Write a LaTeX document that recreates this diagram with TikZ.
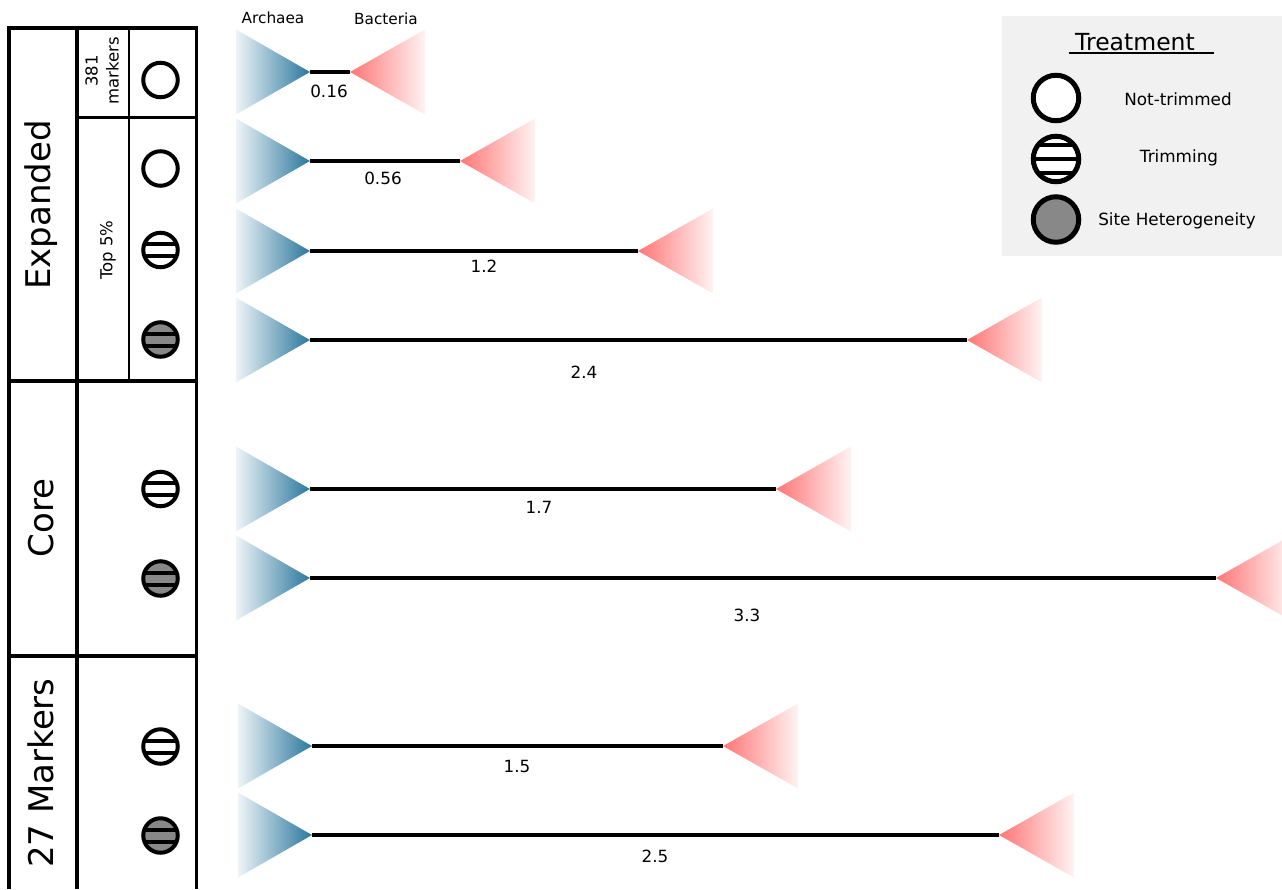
\documentclass[tikz,border=0pt]{standalone}
\usepackage{fontspec}
\setmainfont{DejaVu Sans}
\usetikzlibrary{calc}
\definecolor{arch}{HTML}{2A779D}
\definecolor{archlight}{HTML}{EEF4F7}
\definecolor{bact}{HTML}{FF7676}
\definecolor{bactlight}{HTML}{FFF3F3}
\definecolor{legbg}{HTML}{F0F1F0}
\definecolor{hetgray}{HTML}{888888}
\begin{document}
\begin{tikzpicture}[x=1pt,y=-1pt,
  branch/.style={line width=3.8pt,black},
  numlab/.style={font=\fontsize{16.8}{19}\selectfont,inner sep=0pt},
  toplab/.style={font=\fontsize{15.3}{18}\selectfont,inner sep=0pt},
  biglab/.style={font=\fontsize{34}{40}\selectfont,rotate=90,inner sep=0pt},
  midlab/.style={font=\fontsize{16.5}{21}\selectfont,rotate=90,inner sep=0pt,align=center},
  leglab/.style={font=\fontsize{16.8}{19}\selectfont,inner sep=0pt},
  tcirc/.style={circle,draw=black,line width=4pt,minimum size=34.5pt,inner sep=0pt},
  lcirc/.style={circle,draw=black,line width=5pt,minimum size=45.5pt,inner sep=0pt},
  twostripes/.style={path picture={\foreach \d in {-8,4}{\fill[black] ($(path picture bounding box.west)+(0,\d)$) rectangle ($(path picture bounding box.east)+(0,\d+4)$);}}},
  threestripes/.style={path picture={\foreach \d in {-16,-2,12}{\fill[black] ($(path picture bounding box.west)+(0,\d)$) rectangle ($(path picture bounding box.east)+(0,\d+4)$);}}},
  tline/.style={line width=#1,black},
]
\useasboundingbox (0,0) rectangle (1282,889);
\clip (0,0) rectangle (1282,889);

% ---- table ----
\draw[tline=3.5pt] (9,28) -- (196,28);
\draw[tline=3.5pt] (9,26.3) -- (9,889);
\draw[tline=4pt] (77,26.3) -- (77,889);
\draw[tline=2.5pt] (129,28) -- (129,381);
\draw[tline=3pt] (196,26.3) -- (196,889);
\draw[tline=3pt] (77,117) -- (196,117);
\draw[tline=3.5pt] (9,381) -- (196,381);
\draw[tline=3.5pt] (9,656) -- (196,656);

\node[biglab] (expanded) at (41,205) {Expanded};
\node[biglab] (core) at (41,518) {Core};
\node[biglab] (m27) at (41,773) {27 Markers};
\node[midlab] (top5) at (108,250) {Top 5\%};
\node[midlab] (m381) at (102,71) {381\\markers};

\node[tcirc,fill=white] (c1) at (160.5,80) {};
\node[tcirc,fill=white] (c2) at (160.5,168.5) {};
\node[tcirc,fill=white,twostripes] (c3) at (160.5,250) {};
\node[tcirc,fill=hetgray,twostripes] (c4) at (160.5,339.5) {};
\node[tcirc,fill=white,twostripes] (c5) at (160.5,489) {};
\node[tcirc,fill=hetgray,twostripes] (c6) at (160.5,578.5) {};
\node[tcirc,fill=white,twostripes] (c7) at (160.5,746.5) {};
\node[tcirc,fill=hetgray,twostripes] (c8) at (160.5,835.5) {};

% ---- trees ----
\node[toplab] (archaea) at (273,18) {Archaea};
\node[toplab] (bacteria) at (386,19) {Bacteria};

\foreach \y/\ax/\bx/\lx/\ly/\lab [count=\i] in {
  72/310/350/329/91/0.16,
  161/310/460/383/178/0.56,
  251/310/638/484/266/1.2,
  340/310/967/584/372/2.4,
  489/310/776/539/507/1.7,
  578/310/1216/747/615/3.3,
  746/312/723/517/766/1.5,
  835/312/999/655/856/2.5}{
  \coordinate (a\i) at (\ax,\y);
  \coordinate (b\i) at (\bx,\y);
  \shade[left color=archlight,right color=arch] (\ax-74,\y-42.5) -- (a\i) -- (\ax-74,\y+42.5) -- cycle;
  \shade[left color=bact,right color=bactlight] (b\i) -- (\bx+75,\y-42.5) -- (\bx+75,\y+42.5) -- cycle;
  \draw[branch] (a\i) -- (b\i);
  \node[numlab] (l\i) at (\lx,\ly) {\lab};
}

% ---- legend ----
\fill[legbg] (1002,16) rectangle (1282,256);
\node[font=\fontsize{23.5}{28}\selectfont,inner sep=0pt] (treat) at (1135,42) {Treatment};
\draw[line width=1.5pt] (1069,53) -- (1214,53);
\node[lcirc,fill=white] (lg1) at (1056,98) {};
\node[lcirc,fill=white,threestripes] (lg2) at (1056,159) {};
\node[lcirc,fill=hetgray] (lg3) at (1056,219.5) {};
\node[leglab] (t1) at (1178,99) {Not-trimmed};
\node[leglab] (t2) at (1179,158) {Trimming};
\node[leglab] (t3) at (1177,221) {Site Heterogeneity};
\end{tikzpicture}
\end{document}
